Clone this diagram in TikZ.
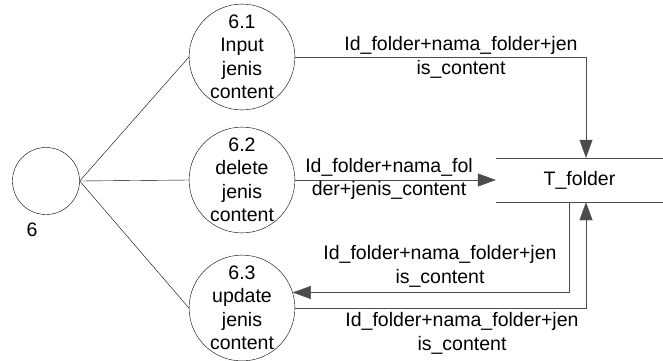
\documentclass[tikz,border=0pt]{standalone}
\usepackage{fontspec}
\setmainfont{Liberation Sans}
\usetikzlibrary{arrows.meta}

\begin{document}
\begin{tikzpicture}[x=1pt, y=-1pt, font=\fontsize{19.5}{23.5}\selectfont,
        proc/.style={draw, circle, minimum size=101pt, inner sep=0pt, align=center},
        flow/.style={draw=black!70, -{Triangle[length=18pt, width=13pt]}},
        lbl/.style={align=center, inner sep=0pt}]
                        \useasboundingbox (0, 0) rectangle (663, 360);
                        \node[draw, circle, minimum size=67pt, inner sep=0pt] (p6) at (46, 181){};
                        \node (l6) at (32, 230){6};
                        
                        \node[proc] (p61) at (242, 57){6.1\\Input\\jenis\\content};
                        \node[proc] (p62) at (242, 180){6.2\\delete\\jenis\\content};
                        \node[proc] (p63) at (242, 308){6.3\\update\\jenis\\content};
                        \foreach \p in {p61, p62, p63} {
                                \draw (p6.east) -- (\p.west);
                        }
                        
                        % data store
                        \node[minimum width=167pt, minimum height=44pt, inner sep=0pt] (tf) at (579.5, 180){T\_folder};
                        \draw[black!70] (tf.north west) -- (tf.north east);
                        \draw[black!70] (tf.south west) -- (tf.south east);
                        
                        \draw[flow] (p61.east) -| ([xshift=6.5pt]tf.north);
                        \node[lbl] (f1) at (461, 57.5){Id\_folder+nama\_folder+jen\\is\_content};
                        
                        \draw[flow] (p62.east) -- (tf.west);
                        \node[lbl] (f2) at (389, 179){Id\_folder+nama\_fol\\der+jenis\_content};
                        
                        \draw[flow] ([xshift=-10.5pt]tf.south) |- (p63.17);
                        \node[lbl] (f3) at (440, 266.5){Id\_folder+nama\_folder+jen\\is\_content};
                        
                        \draw[flow] (p63.east) -| ([xshift=6.5pt]tf.south);
                        \node[lbl] (f4) at (462, 333.5){Id\_folder+nama\_folder+jen\\is\_content};
                \end{tikzpicture}
\end{document}
